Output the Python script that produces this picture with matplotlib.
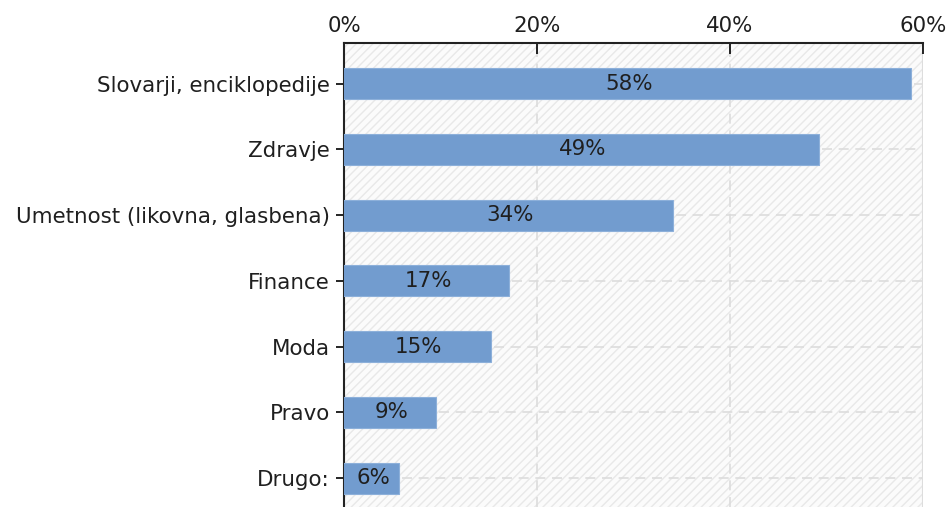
import matplotlib
matplotlib.use("Agg")
import matplotlib.pyplot as plt
from matplotlib.patches import Rectangle
from matplotlib.ticker import FuncFormatter

categories = ["Slovarji, enciklopedije", "Zdravje", "Umetnost (likovna, glasbena)",
              "Finance", "Moda", "Pravo", "Drugo:"]
values = [59.1, 49.5, 34.4, 17.4, 15.5, 9.8, 6.0]
labels = ["58%", "49%", "34%", "17%", "15%", "9%", "6%"]
xticks = [0, 20, 40, 60]

FS = 15.4
plt.rcParams['font.family'] = ['DejaVu Sans']

fig = plt.figure(figsize=(9.5, 5.07), dpi=100)
ax = fig.add_axes([344/950, 0.0, (923-344)/950, 1 - 43/507])

ax.set_facecolor("#fbfbfb")
bg = Rectangle((0, 0), 1, 1, transform=ax.transAxes, facecolor="none",
               edgecolor="#e8e8e8", hatch="////", linewidth=0, zorder=0)
ax.add_patch(bg)

y = list(range(len(categories)))
ax.barh(y, values, height=0.47, color="#729ccf", edgecolor="#8db0da", linewidth=0.8,
        zorder=3, left=-0.3)
for yi, v, lab in zip(y, values, labels):
    ax.text(v / 2, yi, lab, ha="center", va="center", fontsize=FS, color="#1f1f1f", zorder=4)
    ax.plot([v, 60], [yi, yi], color="#dcdcdc", lw=1.2, ls=(0, (6, 4)), zorder=1)

for xt in xticks[1:-1]:
    ax.axvline(xt, color="#dcdcdc", lw=1.2, ls=(0, (6, 4)), zorder=1)
ax.axvline(xticks[-1], color="#dddddd", lw=1.5, zorder=1)

ax.set_xlim(0, 60)
ax.set_ylim(6.44, -0.62)
ax.set_yticks(y)
ax.set_yticklabels(categories, fontsize=FS, color="#1f1f1f")
ax.set_xticks(xticks)
ax.xaxis.set_major_formatter(FuncFormatter(lambda v, p: f"{int(v)}%"))
ax.xaxis.tick_top()
ax.tick_params(axis="x", direction="in", length=8, labelsize=FS, labelcolor="#1f1f1f", pad=5, width=1.2)
ax.tick_params(axis="y", direction="out", length=6, width=1.2, pad=4)
for s in ["right", "bottom"]:
    ax.spines[s].set_visible(False)
for s in ["left", "top"]:
    ax.spines[s].set_linewidth(1.5)
    ax.spines[s].set_color("#222222")

fig.savefig("out.png", dpi=100)
